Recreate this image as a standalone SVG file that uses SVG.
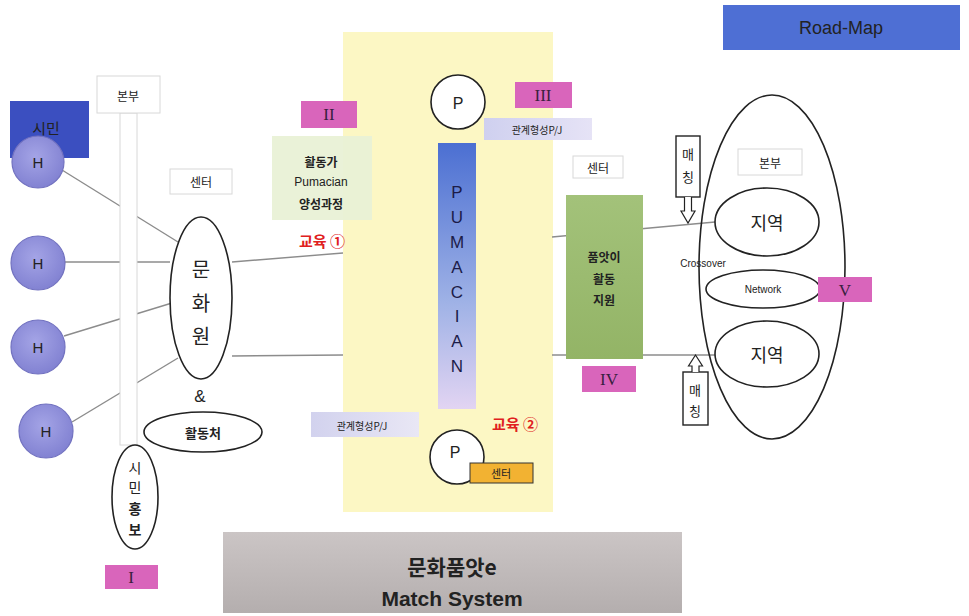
<svg xmlns="http://www.w3.org/2000/svg" width="969" height="616" viewBox="0 0 969 616">
<style>
.k{font-family:"Noto Sans CJK KR","Noto Sans",sans-serif;fill:#222;text-anchor:middle;dominant-baseline:central}
.s{font-family:"Liberation Sans","Noto Sans",sans-serif;fill:#222;text-anchor:middle;dominant-baseline:central}
.r{font-family:"Liberation Serif",serif;fill:#3a2040;text-anchor:middle;dominant-baseline:central;font-size:17px}
.pink{fill:#d965bb}
.wbox{fill:#fff;stroke:#d8d8d8;stroke-width:1}
.ol{fill:#fff;stroke:#222;stroke-width:1.6}
.hc{fill:url(#hg);stroke:#7272c0;stroke-width:1.2}
.con{stroke:#8c8c8c;stroke-width:1.4;fill:none}
.pl{font-family:"Liberation Sans","Noto Sans",sans-serif;fill:#1c1c48;font-size:17px;text-anchor:middle;dominant-baseline:central}
.red{font-family:"Noto Sans CJK KR",sans-serif;fill:#e02020;font-weight:bold;font-size:15px;text-anchor:middle;dominant-baseline:central}
</style>
<defs>
<radialGradient id="hg" cx="0.45" cy="0.4" r="0.6"><stop offset="0" stop-color="#a4a4e6"/><stop offset="1" stop-color="#8282d2"/></radialGradient>
<linearGradient id="pg" x1="0" y1="0" x2="0" y2="1"><stop offset="0" stop-color="#4b6fd2"/><stop offset="0.6" stop-color="#9fb2e6"/><stop offset="1" stop-color="#e2d4f2"/></linearGradient>
<linearGradient id="lav1" x1="0" y1="0" x2="1" y2="0"><stop offset="0" stop-color="#cfd0ef"/><stop offset="1" stop-color="#e6e3f6"/></linearGradient>
<linearGradient id="lav2" x1="0" y1="0" x2="1" y2="0"><stop offset="0" stop-color="#d2d2ee"/><stop offset="1" stop-color="#e9e7f5"/></linearGradient>
<linearGradient id="gr" x1="0" y1="0" x2="0" y2="1"><stop offset="0" stop-color="#cbc5c5"/><stop offset="1" stop-color="#b4aeae"/></linearGradient>
<linearGradient id="gn" x1="0" y1="0" x2="0" y2="1"><stop offset="0" stop-color="#a3c27a"/><stop offset="1" stop-color="#93b466"/></linearGradient>
</defs>
<rect width="969" height="616" fill="#fff"/>

<g id="pumacian-zone"><rect x="343" y="32" width="210" height="480" fill="#fcf7c4"/></g>

<g id="connectors">
<line class="con" x1="62" y1="170" x2="178" y2="242"/>
<line class="con" x1="65" y1="262" x2="170" y2="262"/>
<line class="con" x1="64" y1="336" x2="172" y2="303"/>
<line class="con" x1="72" y1="422" x2="178" y2="358"/>
<line class="con" x1="232" y1="262" x2="343" y2="253" stroke="#667080"/>
<line class="con" x1="232" y1="356" x2="343" y2="355"/>
<line class="con" x1="552" y1="237" x2="715" y2="222"/>
<line class="con" x1="552" y1="355" x2="716" y2="355"/>
</g>

<g id="hq-left"><rect class="wbox" x="120" y="113" width="17" height="332" stroke="#e4e4e4"/><rect class="wbox" x="97" y="76" width="63" height="37"/><text class="k" x="128" y="95" font-size="12">본부</text></g>

<g id="citizen"><rect x="10" y="101" width="79" height="57" fill="#3b4fc0"/><text class="k" x="46" y="127" font-size="15" fill="#1e2a7a">시민</text></g>

<g id="h1"><circle class="hc" cx="38" cy="162" r="26"/><text class="s" x="38" y="162" font-size="15" fill="#1e1e50">H</text></g>
<g id="h2"><circle class="hc" cx="38" cy="263" r="27"/><text class="s" x="38" y="263" font-size="15" fill="#1e1e50">H</text></g>
<g id="h3"><circle class="hc" cx="38" cy="347" r="27"/><text class="s" x="38" y="347" font-size="15" fill="#1e1e50">H</text></g>
<g id="h4"><circle class="hc" cx="46" cy="431" r="27"/><text class="s" x="46" y="431" font-size="15" fill="#1e1e50">H</text></g>

<g id="center-left"><rect class="wbox" x="170" y="169" width="62" height="25"/><text class="k" x="201" y="181" font-size="12">센터</text></g>

<g id="culture-center"><ellipse class="ol" cx="201" cy="298" rx="31" ry="81"/>
<text class="k" x="201" y="268" font-size="20">문</text><text class="k" x="201" y="302" font-size="20">화</text><text class="k" x="201" y="335" font-size="20">원</text></g>
<text class="s" x="200" y="396" font-size="17">&amp;</text>
<g id="activity-place"><ellipse class="ol" cx="203" cy="432" rx="59" ry="20"/><text class="k" x="203" y="432" font-size="13" font-weight="bold">활동처</text></g>
<g id="citizen-pr"><ellipse class="ol" cx="135" cy="497" rx="23" ry="52"/>
<text class="k" x="135" y="467" font-size="14">시</text><text class="k" x="135" y="487" font-size="14">민</text><text class="k" x="135" y="508" font-size="14" font-weight="bold">홍</text><text class="k" x="135" y="529" font-size="14" font-weight="bold">보</text></g>
<g id="label-1"><rect class="pink" x="105" y="565" width="53" height="24"/><text class="r" x="131" y="577">I</text></g>

<g id="label-2"><rect class="pink" x="301" y="101" width="56" height="27"/><text class="r" x="329" y="114">II</text></g>
<g id="trainer-course"><rect x="272" y="136" width="100" height="84" fill="#e9f1d6" opacity="0.95"/>
<text class="k" x="321" y="161" font-size="12" font-weight="bold">활동가</text><text class="s" x="321" y="182" font-size="12">Pumacian</text><text class="k" x="321" y="203" font-size="12" font-weight="bold">양성과정</text></g>
<text class="red" x="322" y="240">교육 ①</text>

<g id="p-top"><circle class="ol" cx="458" cy="102" r="27"/><text class="s" x="458" y="103" font-size="16">P</text></g>
<g id="label-3"><rect class="pink" x="515" y="82" width="57" height="26"/><text class="r" x="543" y="95">III</text></g>
<g id="rel-top"><rect x="484" y="118" width="108" height="22" fill="url(#lav1)"/><text class="k" x="537" y="129" font-size="10">관계형성P/J</text></g>

<g id="pumacian-bar"><rect x="438" y="143" width="38" height="266" fill="url(#pg)"/>
<text class="pl" x="457" y="192">P</text><text class="pl" x="457" y="217">U</text><text class="pl" x="457" y="242">M</text><text class="pl" x="457" y="267">A</text><text class="pl" x="457" y="292">C</text><text class="pl" x="457" y="316">I</text><text class="pl" x="457" y="341">A</text><text class="pl" x="457" y="366">N</text></g>

<g id="rel-bottom"><rect x="311" y="412" width="108" height="25" fill="url(#lav2)"/><text class="k" x="362" y="425" font-size="10">관계형성P/J</text></g>
<text class="red" x="515" y="423">교육 ②</text>
<g id="p-bottom"><circle class="ol" cx="457" cy="457" r="27"/><text class="s" x="455" y="452" font-size="16">P</text>
<rect x="470" y="463" width="63" height="20" fill="#f2b232" stroke="#333" stroke-width="1"/><text class="k" x="501" y="473" font-size="11">센터</text></g>

<g id="title-bottom"><rect x="223" y="532" width="459" height="81" fill="url(#gr)"/>
<text class="k" x="452" y="566" font-size="21" font-weight="bold">문화품앗e</text>
<text class="s" x="452" y="598" font-size="21" font-weight="bold" fill="#111">Match System</text></g>

<g id="center-right"><rect class="wbox" x="573" y="156" width="50" height="22"/><text class="k" x="598" y="167" font-size="12">센터</text></g>
<g id="pumasi-support"><rect x="566" y="195" width="77" height="164" fill="url(#gn)"/>
<text class="k" x="604" y="256" font-size="12" font-weight="bold">품앗이</text><text class="k" x="604" y="278" font-size="12" font-weight="bold">활동</text><text class="k" x="604" y="299" font-size="12" font-weight="bold">지원</text></g>
<g id="label-4"><rect class="pink" x="582" y="366" width="54" height="26"/><text class="r" x="609" y="379">IV</text></g>

<g id="hq-right"><ellipse fill="none" stroke="#222" stroke-width="1.6" cx="772" cy="267" rx="73" ry="172"/>
<rect class="wbox" x="738" y="149" width="64" height="26"/><text class="k" x="770" y="162" font-size="12">본부</text></g>
<g id="region-top"><ellipse class="ol" cx="767" cy="222" rx="52" ry="34"/><text class="k" x="767" y="222" font-size="18">지역</text></g>
<text class="s" x="703" y="263" font-size="10">Crossover</text>
<g id="network"><ellipse class="ol" cx="763" cy="289" rx="57" ry="19"/><text class="s" x="763" y="289" font-size="10">Network</text></g>
<g id="label-5"><rect class="pink" x="818" y="277" width="54" height="25"/><text class="r" x="845" y="290">V</text></g>
<g id="region-bottom"><ellipse class="ol" cx="767" cy="354" rx="52" ry="33"/><text class="k" x="767" y="354" font-size="18">지역</text></g>

<g id="match-top"><rect x="676" y="136" width="24" height="61" fill="#fff" stroke="#222" stroke-width="1.4"/>
<text class="k" x="688" y="153" font-size="13">매</text><text class="k" x="688" y="176" font-size="13">칭</text>
<path d="M684.5 197 V211 H681 L688 223 L695 211 H691.5 V197" fill="#fff" stroke="#222" stroke-width="1.2"/></g>
<g id="match-bottom"><rect x="683" y="372" width="25" height="53" fill="#fff" stroke="#222" stroke-width="1.4"/>
<text class="k" x="695" y="389" font-size="13">매</text><text class="k" x="695" y="410" font-size="13">칭</text>
<path d="M692 372 V366 H688.5 L695.5 355 L702.5 366 H699 V372" fill="#fff" stroke="#222" stroke-width="1.2"/></g>

<g id="road-map"><rect x="723" y="5" width="237" height="45" fill="#4e6fd4"/><text class="s" x="841" y="28" font-size="18" fill="#e4e9ff">Road-Map</text></g>
</svg>
